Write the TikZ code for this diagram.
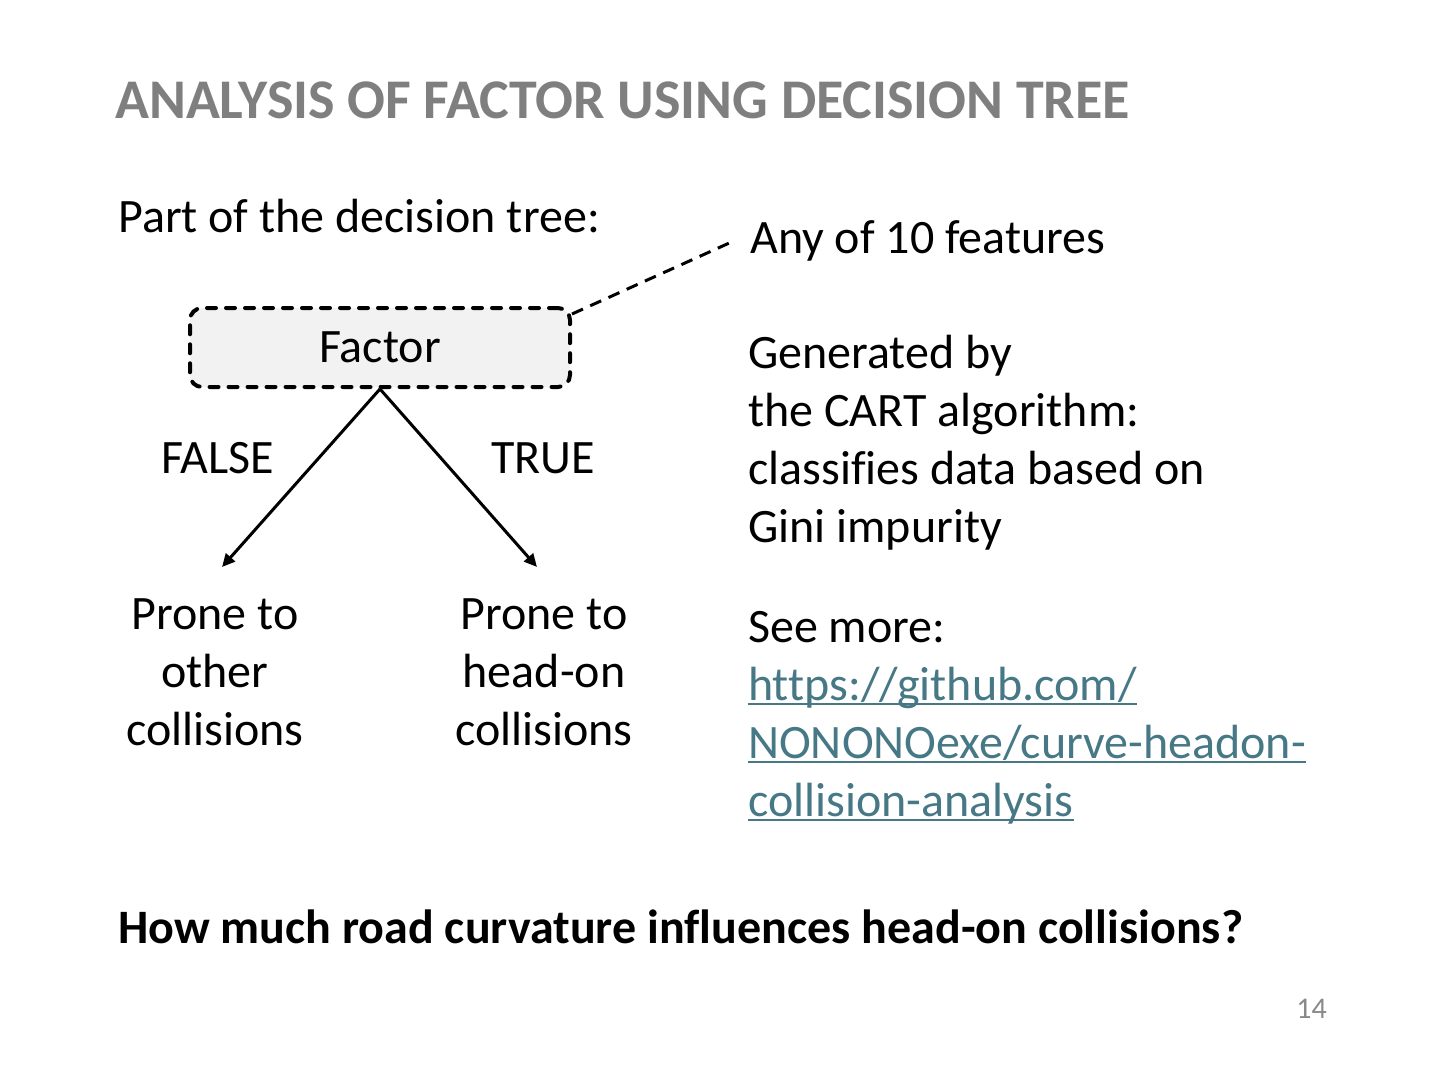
\documentclass[tikz,border=0pt]{standalone}
\usepackage{fontspec}
\setmainfont{Carlito}[Ligatures=NoCommon]
\usetikzlibrary{arrows.meta,calc}
\definecolor{titlegray}{RGB}{127,127,127}
\definecolor{numgray}{RGB}{137,137,137}
\definecolor{linkc}{RGB}{70,120,134}
\definecolor{boxfill}{RGB}{242,242,242}
\begin{document}
\begin{tikzpicture}[x=1pt,y=-1pt,
  txt/.style={inner sep=0pt, anchor=base west, font=\fontsize{48}{58}\selectfont},
  ctxt/.style={inner sep=0pt, anchor=base, font=\fontsize{48}{58}\selectfont},
  leaf/.style={inner sep=0pt, anchor=north, align=center, font=\fontsize{48}{58}\selectfont},
  para/.style={inner sep=0pt, anchor=north west, align=left, font=\fontsize{48}{58}\selectfont},
  factorbox/.style={draw, fill=boxfill, line width=4pt, dash pattern=on 9pt off 10pt,
    line cap=round, rounded corners=12pt, minimum width=380pt, minimum height=79pt, inner sep=0pt,
    font=\fontsize{48}{58}\selectfont},
  branch/.style={line width=3pt, -{Triangle[length=13pt,width=12pt]}},
  callout/.style={line width=3pt, dash pattern=on 12pt off 8pt},
  link/.style={txt, text=linkc},
  uline/.style={line width=2.5pt, draw=linkc}
]
\useasboundingbox[fill=white] (0,0) rectangle (1440,1080);

\node[inner sep=0pt, anchor=base west, text=titlegray,
  font=\fontsize{56}{64}\selectfont\bfseries] (title) at (115,118)
  {ANALYSIS OF FACTOR USING DECISION TREE};

\node[txt] (part) at (118,232) {Part of the decision tree:};
\node[txt] (feat) at (750,253) {Any of 10 features};

\node[factorbox] (factor) at (380,347.5) {Factor};
\draw[callout] ($(factor.north east)+(0,8)$) -- ([xshift=-15pt]feat.west);

\coordinate (lend) at (222,567);
\coordinate (rend) at (537,567);
\draw[branch] (factor.south) -- (lend);
\draw[branch] (factor.south) -- (rend);

\node[ctxt] (false) at (218,473) {FALSE};
\node[ctxt] (true) at (543,473) {TRUE};

\node[leaf] (other) at (215,598) {Prone to\\other\\collisions};
\node[leaf] (headon) at (544,598) {Prone to\\head-on\\collisions};

\node[para] (cart) at (748,335) {Generated by\\the CART algorithm:\\classifies data based on\\Gini impurity};

\node[txt] (see) at (748,642) {See more:};
\node[link] (l1) at (748,700) {https://github.com/};
\node[link] (l2) at (748,758) {NONONOexe/curve-headon-};
\node[link] (l3) at (748,816) {collision-analysis};
\draw[uline] ([yshift=-4pt]l1.base west) -- ([yshift=-4pt]l1.base east);
\draw[uline] ([yshift=-4pt]l2.base west) -- ([yshift=-4pt]l2.base east);
\draw[uline] ([yshift=-4pt]l3.base west) -- ([yshift=-4pt]l3.base east);

\node[txt, font=\fontsize{48}{58}\selectfont\bfseries] (question) at (118,943)
  {How much road curvature influences head-on collisions?};

\node[inner sep=0pt, anchor=base east, text=numgray, font=\fontsize{30}{34}\selectfont]
  (page) at (1327,1018) {14};
\end{tikzpicture}
\end{document}
